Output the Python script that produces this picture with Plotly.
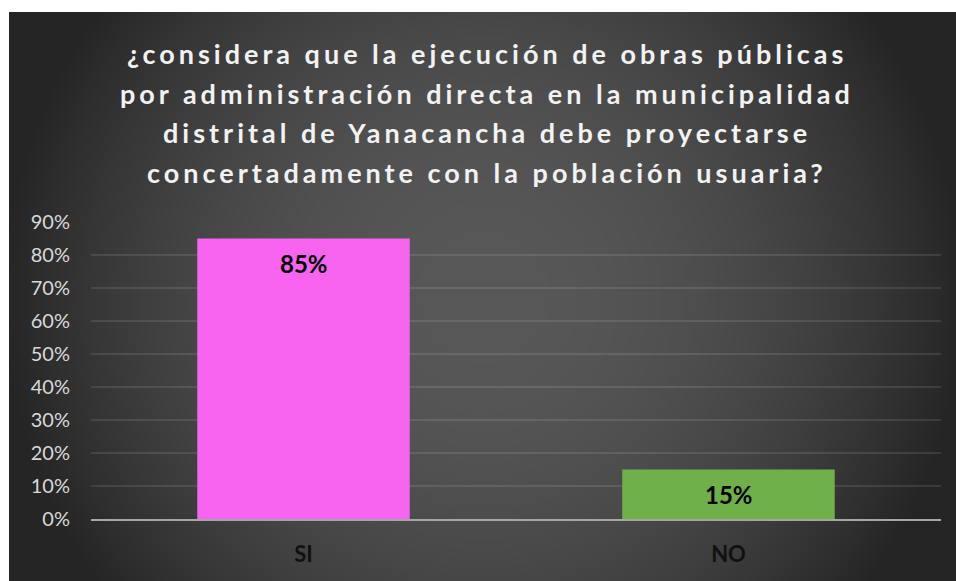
import base64, struct, zlib
import numpy as np
import plotly.graph_objects as go

# ---- data ----
categories = ["SI", "NO"]
values = [0.85, 0.15]
bar_colors = ["#f664f0", "#70b04a"]
title_lines = [
    "¿considera que la ejecución de obras públicas",
    "por administración directa en la municipalidad",
    "distrital de Yanacancha debe proyectarse",
    "concertadamente con la población usuaria?",
]
y_ticks = [0, 0.1, 0.2, 0.3, 0.4, 0.5, 0.6, 0.7, 0.8, 0.9]
y_ticklabels = ["0%", "10%", "20%", "30%", "40%", "50%", "60%", "70%", "80%", "90%"]

# ---- geometry: page is 956x581, body keeps its default 8px margin ----
PAGE_W, PAGE_H = 956, 581
OFF = 8
W, H = PAGE_W - 2 * OFF, PAGE_H - 2 * OFF          # 940 x 565 figure
PL, PR, PT, PB = 91, 941, 222, 519                  # plot area, page pixels
ML, MR, MT, MB = PL - OFF, (OFF + W) - PR, PT - OFF, (OFF + H) - PB
PW, PH = W - ML - MR, H - MT - MB
PANEL_X0, PANEL_Y0 = 9, 12                          # dark panel origin, page pixels


def page_x(px):
    return (px - PL) / PW


def page_y(py):
    return (PB - py) / PH


# ---- radial gradient background image ----
pw, ph = PAGE_W - PANEL_X0, PAGE_H - PANEL_Y0
yy, xx = np.mgrid[0:ph, 0:pw].astype(float)
cx, cy = pw / 2, ph / 2
d2 = (xx - cx) ** 2 + (yy - cy) ** 2
g = np.clip(88 - 0.00022 * d2, 37, 88).astype(np.uint8)


def png_gray(arr):
    h, w = arr.shape
    raw = b"".join(b"\x00" + arr[i].tobytes() for i in range(h))

    def chunk(t, data):
        c = struct.pack(">I", len(data)) + t + data
        return c + struct.pack(">I", zlib.crc32(t + data) & 0xFFFFFFFF)

    return (b"\x89PNG\r\n\x1a\n"
            + chunk(b"IHDR", struct.pack(">IIBBBBB", w, h, 8, 0, 0, 0, 0))
            + chunk(b"IDAT", zlib.compress(raw, 9))
            + chunk(b"IEND", b""))


bg_uri = "data:image/png;base64," + base64.b64encode(png_gray(g)).decode()

fig = go.Figure()
fig.add_trace(go.Bar(
    x=categories, y=values,
    marker=dict(color=bar_colors, line=dict(width=0)),
    hoverinfo="skip",
))

annotations = []
# data labels
for c, v in zip(categories, values):
    annotations.append(dict(
        x=c, y=v, xref="x", yref="y", text=f"<b>{round(v*100)}%</b>",
        showarrow=False, yanchor="middle", yshift=-25,
        font=dict(family="Lato", size=24, color="#000000"),
    ))
# title lines (page-pixel centres)
title_centers = [53, 93, 133, 172]
for line, yc in zip(title_lines, title_centers):
    annotations.append(dict(
        x=page_x(487), y=page_y(yc), xref="paper", yref="paper",
        text=f'<span style="letter-spacing:4px"><b>{line}</b></span>',
        showarrow=False, xanchor="center", yanchor="middle",
        font=dict(family="Lato", size=27, color="#f2f2f2"),
    ))

fig.update_layout(
    width=W, height=H, autosize=False,
    margin=dict(l=ML, r=MR, t=MT, b=MB, pad=0, autoexpand=False),
    paper_bgcolor="rgba(0,0,0,0)",
    plot_bgcolor="rgba(0,0,0,0)",
    showlegend=False,
    bargap=0.5,
    annotations=annotations,
    images=[dict(
        source=bg_uri, xref="paper", yref="paper",
        x=page_x(PANEL_X0), y=page_y(PANEL_Y0),
        sizex=pw / PW, sizey=ph / PH,
        xanchor="left", yanchor="top", sizing="stretch", layer="below",
    )],
    xaxis=dict(
        automargin=False,
        showgrid=False, zeroline=False,
        showline=True, linecolor="#a6a6a6", linewidth=2,
        ticks="", ticklabelstandoff=15,
        tickfont=dict(family="Lato", size=22, color="#111111", weight="bold"),
    ),
    yaxis=dict(
        automargin=False,
        range=[0, 0.9], tickvals=y_ticks, ticktext=y_ticklabels,
        showgrid=True, gridcolor="rgba(255,255,255,0.10)", gridwidth=1.5,
        zeroline=False, showline=False, ticks="", ticklabelstandoff=20,
        tickfont=dict(family="Lato", size=20, color="#d9d9d9"),
    ),
)

post = (
    "var b=document.body.style;"
    "b.backgroundColor='#ffffff';"
    f"b.backgroundImage=\"url('{bg_uri}')\";"
    "b.backgroundRepeat='no-repeat';"
    f"b.backgroundPosition='{PANEL_X0}px {PANEL_Y0}px';"
    f"b.backgroundSize='{pw}px {ph}px';"
)

fig.write_html("out.html", config={"displayModeBar": False}, post_script=post)
